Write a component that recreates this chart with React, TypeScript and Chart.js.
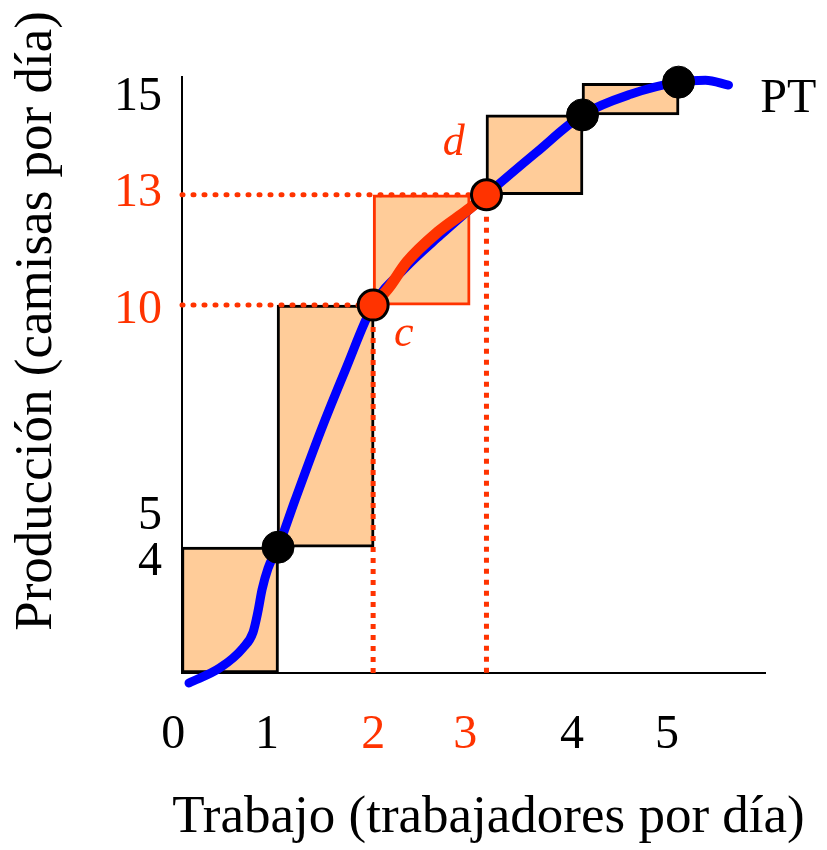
import React, { useEffect, useRef } from "react";
import { Chart, registerables } from "chart.js";

Chart.register(...registerables);

const RED = "#FF3300";
const PEACH = "#FFCC99";
const BLUE = "#0000FF";
const BLACK = "#000000";
const SERIF = "'Liberation Serif', 'Times New Roman', Times, serif";

// The drawing is not to scale: everything is expressed in the picture's own axis units
// (x: trabajadores, y: camisas).
const xTickValues = [-0.09, 0.885, 1.99, 2.95, 4.06, 5.05];
const xTickLabels = ["0", "1", "2", "3", "4", "5"];
const xTickColors = [BLACK, BLACK, RED, RED, BLACK, BLACK];

const yTickValues = [3.02, 4.27, 9.86, 13.03, 15.64];
const yTickLabels = ["4", "5", "10", "13", "15"];
const yTickColors = [BLACK, BLACK, RED, RED, BLACK];

// Producto total (PT) curve
const curveX = [0.073, 0.396, 0.635, 0.74, 0.79, 0.833, 0.896, 1.0, 1.177, 1.44, 1.7, 1.99, 2.32, 2.69, 3.17, 3.68, 4.17, 4.67, 5.17, 5.45, 5.69];
const curveY = [-0.27, 0.14, 0.68, 1.11, 1.66, 2.26, 2.85, 3.42, 4.7, 6.55, 8.23, 10.0, 11.0, 11.9, 13.0, 14.13, 15.17, 15.73, 16.06, 16.11, 15.98];

// Highlighted stretch c -> d
const segX = [1.99, 2.15, 2.34, 2.66, 2.97, 3.17];
const segY = [10.0, 10.46, 11.17, 11.98, 12.58, 13.0];

// Black points on the curve
const markX = [1.0, 4.17, 5.17];
const markY = [3.42, 15.17, 16.06];

// Points c and d
const cdX = [1.99, 3.17];
const cdY = [10, 13];

// Marginal product boxes
const boxX = [0.5, 1.495, 2.495, 3.67, 4.67];
const boxLow = [0, 3.42, 10, 13, 15.17];
const boxHigh = [3.42, 10, 13, 15.17, 16.03];
const boxBorders = [BLACK, BLACK, RED, BLACK, BLACK];

// Guide lines
const guide10X = [0, 1.99];
const guide13X = [0, 3.17];

const xTitle = "Trabajo (trabajadores por día)";
const yTitle = "Producción (camisas por día)";

const notes = [
  { text: "PT", x: 6.02, y: 15.24, color: BLACK, italic: false, size: 48, align: "left" },
  { text: "d", x: 2.83, y: 14.08, color: RED, italic: true, size: 44, align: "center" },
  { text: "c", x: 2.31, y: 8.89, color: RED, italic: true, size: 44, align: "center" },
];

const pts = (xs: number[], ys: number[]) => xs.map((x, i) => ({ x, y: ys[i] }));

export default function App() {
  const ref = useRef<HTMLCanvasElement>(null);

  useEffect(() => {
    const canvas = ref.current;
    if (!canvas) return;
    Chart.defaults.font.family = SERIF;
    Chart.defaults.color = BLACK;

    const textPlugin = {
      id: "textNotes",
      afterDatasetsDraw(chart: any) {
        const { ctx, chartArea, scales } = chart;
        ctx.save();
        ctx.textBaseline = "alphabetic";
        for (const n of notes) {
          ctx.font = `${n.italic ? "italic " : ""}${n.size}px ${SERIF}`;
          ctx.fillStyle = n.color;
          ctx.textAlign = n.align;
          ctx.fillText(n.text, scales.x.getPixelForValue(n.x), scales.y.getPixelForValue(n.y));
        }
        ctx.font = `53px ${SERIF}`;
        ctx.fillStyle = BLACK;
        ctx.textAlign = "center";
        ctx.fillText(xTitle, (chartArea.left + chartArea.right) / 2 + 15, chartArea.bottom + 159);
        ctx.translate(chartArea.left - 131, (chartArea.top + chartArea.bottom) / 2 - 54);
        ctx.rotate(-Math.PI / 2);
        ctx.fillText(yTitle, 0, 0);
        ctx.restore();
      },
    };

    const chart = new Chart(canvas, {
      type: "line",
      data: {
        datasets: [
          {
            type: "line",
            label: "c, d",
            data: pts(cdX, cdY),
            showLine: false,
            pointRadius: 15,
            pointBackgroundColor: RED,
            pointBorderColor: BLACK,
            pointBorderWidth: 3,
            order: 0,
            clip: false,
          },
          {
            type: "line",
            label: "puntos",
            data: pts(markX, markY),
            showLine: false,
            pointRadius: 16,
            pointBackgroundColor: BLACK,
            pointBorderColor: BLACK,
            pointBorderWidth: 1,
            order: 0,
            clip: false,
          },
          {
            type: "line",
            label: "c-d",
            data: pts(segX, segY),
            borderColor: RED,
            borderWidth: 11,
            pointRadius: 0,
            cubicInterpolationMode: "monotone",
            borderCapStyle: "round",
            borderJoinStyle: "round",
            order: 1,
            clip: false,
          },
          {
            type: "line",
            label: "PT",
            data: pts(curveX, curveY),
            borderColor: BLUE,
            borderWidth: 9,
            pointRadius: 0,
            cubicInterpolationMode: "monotone",
            borderCapStyle: "round",
            borderJoinStyle: "round",
            order: 2,
            clip: false,
          },
          {
            type: "line",
            label: "guía 13",
            data: guide13X.map((x) => ({ x, y: cdY[1] })),
            borderColor: RED,
            borderWidth: 5,
            borderDash: [1, 10],
            borderCapStyle: "round",
            pointRadius: 0,
            order: 3,
            clip: false,
          },
          {
            type: "line",
            label: "guía 10",
            data: guide10X.map((x) => ({ x, y: cdY[0] })),
            borderColor: RED,
            borderWidth: 5,
            borderDash: [1, 10],
            borderCapStyle: "round",
            pointRadius: 0,
            order: 3,
            clip: false,
          },
          {
            type: "line",
            label: "guía 2",
            data: [{ x: cdX[0], y: cdY[0] }, { x: cdX[0], y: 0 }],
            borderColor: RED,
            borderWidth: 5,
            borderDash: [5, 6],
            borderCapStyle: "butt",
            pointRadius: 0,
            order: 3,
            clip: false,
          },
          {
            type: "line",
            label: "guía 3",
            data: [{ x: cdX[1], y: cdY[1] }, { x: cdX[1], y: 0 }],
            borderColor: RED,
            borderWidth: 5,
            borderDash: [5, 6],
            borderCapStyle: "butt",
            pointRadius: 0,
            order: 3,
            clip: false,
          },
          {
            type: "bar",
            label: "producto marginal",
            data: boxX.map((x, i) => ({ x, y: [boxLow[i], boxHigh[i]] })) as any,
            backgroundColor: PEACH,
            borderColor: boxBorders,
            borderWidth: 3,
            borderSkipped: false,
            barThickness: 97,
            order: 4,
          },
        ] as any,
      },
      options: {
        animation: false,
        responsive: false,
        devicePixelRatio: 1,
        events: [],
        layout: { padding: { left: 0, right: 62, top: 77, bottom: 0 } },
        plugins: { legend: { display: false }, tooltip: { enabled: false } },
        scales: {
          x: {
            type: "linear",
            min: 0,
            max: 6.07,
            offset: false,
            grid: { display: false, drawTicks: false, offset: false },
            border: { display: true, color: BLACK, width: 2 },
            afterBuildTicks: (s: any) => {
              s.ticks = xTickValues.map((v) => ({ value: v }));
            },
            afterFit: (s: any) => {
              s.height = 177;
            },
            ticks: {
              autoSkip: false,
              maxRotation: 0,
              padding: 34,
              font: { size: 48, family: SERIF },
              color: (c: any) => xTickColors[c.index] || BLACK,
              callback: (_v: any, i: number) => xTickLabels[i],
            },
          },
          y: {
            type: "linear",
            min: 0,
            max: 16.2,
            offset: false,
            grid: { display: false, drawTicks: false },
            border: { display: true, color: BLACK, width: 2 },
            afterBuildTicks: (s: any) => {
              s.ticks = yTickValues.map((v) => ({ value: v }));
            },
            afterFit: (s: any) => {
              s.width = 182;
            },
            ticks: {
              autoSkip: false,
              padding: 20,
              font: { size: 48, family: SERIF },
              color: (c: any) => yTickColors[c.index] || BLACK,
              callback: (_v: any, i: number) => yTickLabels[i],
            },
          },
        },
      } as any,
      plugins: [textPlugin],
    });

    return () => chart.destroy();
  }, []);

  return (
    <div style={{ position: "absolute", left: 0, top: 0, width: 827, height: 850, background: "#fff" }}>
      <canvas ref={ref} width={827} height={850} style={{ display: "block" }} />
    </div>
  );
}
